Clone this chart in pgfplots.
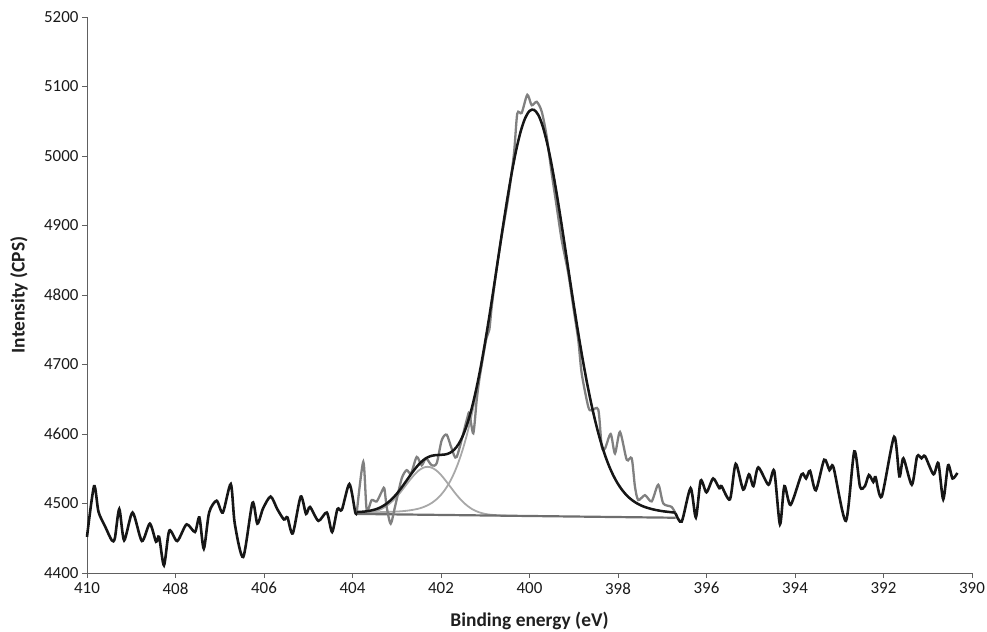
\documentclass[border=0pt]{standalone}
\usepackage{pgfplots}
\pgfplotsset{compat=1.18}
\usepackage{fontspec}
\setmainfont{Carlito}
\definecolor{blk}{HTML}{161616}
\definecolor{datgray}{HTML}{808080}
\definecolor{compgray}{HTML}{A8A8A8}
\definecolor{basegray}{HTML}{6E6E6E}
\definecolor{axgray}{HTML}{606060}
\begin{document}
\begin{tikzpicture}
\path[use as bounding box] (-87bp,-59bp) rectangle (900bp,573bp);
\begin{axis}[
  scale only axis,
  width=885bp, height=556bp,
  xmin=390, xmax=410, x dir=reverse,
  ymin=4400, ymax=5200,
  xtick={390,392,...,410},
  ytick={4400,4500,...,5200},
  axis x line*=bottom, axis y line*=left,
  axis line style={axgray, line width=0.8bp},
  tick style={axgray, line width=0.8bp},
  tick align=outside,
  major tick length=5bp,
  /pgf/number format/assume math mode=true,
  /pgf/number format/1000 sep={},
  ticklabel style={font=\fontsize{17}{20}\selectfont, text=black!90},
  xticklabel style={yshift=-1bp},
  xlabel={Binding energy (eV)},
  ylabel={Intensity (CPS)},
  label style={font=\bfseries\fontsize{19.5}{22}\selectfont, text=black!88},
  xlabel style={at={(axis description cs:0.5,0)}, anchor=center, yshift=-48bp},
  ylabel style={at={(axis description cs:-0.0768,0.5)}, anchor=center},
  clip=false,
]
% small component (light gray)
\addplot[compgray, line width=1.8bp, smooth] coordinates {
(403.9,4485.4)(403.8,4485.7)(403.7,4486.2)(403.6,4487.0)(403.5,4488.4)(403.4,4490.6)
(403.3,4493.7)(403.2,4497.9)(403.1,4503.3)(403.0,4509.9)(402.9,4517.5)(402.8,4525.8)
(402.7,4534.0)(402.6,4541.5)(402.5,4547.6)(402.4,4551.5)(402.3,4552.8)(402.2,4551.3)
(402.1,4547.3)(402.0,4541.1)(401.9,4533.4)(401.8,4525.0)(401.7,4516.6)(401.6,4508.8)
(401.5,4502.1)(401.4,4496.5)(401.3,4492.1)(401.2,4488.9)(401.1,4486.6)(401.0,4485.0)
(400.9,4484.0)(400.8,4483.4)(400.7,4483.0)(400.6,4482.7)(400.5,4482.4)};
% main component (light gray)
\addplot[compgray, line width=1.8bp, smooth] coordinates {
(403.9,4487.3)(403.8,4487.3)(403.7,4487.3)(403.6,4487.4)(403.5,4487.5)(403.4,4487.5)
(403.3,4487.7)(403.2,4487.9)(403.1,4488.1)(403.0,4488.4)(402.9,4488.8)(402.8,4489.4)
(402.7,4490.2)(402.6,4491.3)(402.5,4492.7)(402.4,4494.8)(402.3,4497.5)(402.2,4501.2)
(402.1,4506.1)(402.0,4512.5)(401.9,4520.7)(401.8,4531.2)(401.7,4544.2)(401.6,4560.2)
(401.5,4579.5)(401.4,4602.4)(401.3,4629.1)(401.2,4659.6)(401.1,4693.6)(401.0,4731.0)
(400.9,4771.1)(400.8,4813.0)(400.7,4855.8)(400.6,4898.2)(400.5,4938.8)(400.4,4976.1)
(400.3,5008.7)(400.2,5035.1)(400.1,5054.2)(400.0,5064.8)(399.9,5066.5)(399.8,5059.0)
(399.7,5042.6)(399.6,5018.3)(399.5,4987.4)(399.4,4951.4)(399.3,4911.8)(399.2,4870.1)
(399.1,4827.7)(399.0,4786.0)(398.9,4745.9)(398.8,4708.2)(398.7,4673.6)(398.6,4642.5)
(398.5,4615.0)(398.4,4591.1)(398.3,4570.7)(398.2,4553.7)(398.1,4539.6)(398.0,4528.1)
(397.9,4518.9)(397.8,4511.5)(397.7,4505.8)(397.6,4501.3)(397.5,4497.8)(397.4,4495.1)
(397.3,4493.1)(397.2,4491.4)(397.1,4490.1)(397.0,4489.0)(396.9,4488.2)(396.8,4487.5)
(396.7,4486.8)};
% baseline
\addplot[basegray, line width=2.2bp] coordinates {(403.9,4485.0)(396.7,4479.5)};
% measured data in fit region (gray)
\addplot[datgray, line width=2.3bp, smooth, tension=0.45] coordinates {
(403.905,4486)(403.756,4560)(403.679,4491)(403.566,4505)(403.453,4503)(403.340,4517)
(403.281,4522)(403.227,4495)(403.137,4471)(403.040,4495)(402.888,4536)(402.775,4548)
(402.678,4543)(402.549,4567)(402.436,4555)(402.339,4565)(402.210,4555)(402.097,4558)
(401.984,4591)(401.871,4599)(401.758,4579)(401.645,4567)(401.419,4620)(401.360,4630)
(401.270,4601)(401.193,4649)(401.130,4680)(400.983,4735)(400.908,4750)(400.854,4783)
(400.757,4831)(400.644,4879)(400.479,4941)(400.350,5004)(400.276,5061)(400.176,5062)
(400.050,5088)(399.950,5073)(399.837,5078)(399.724,5064)(399.611,5028)(399.498,4975)
(399.385,4927)(399.272,4879)(399.123,4831)(399.010,4783)(398.897,4735)(398.820,4687)
(398.671,4639)(398.594,4634)(398.445,4635)(398.368,4582)(398.294,4579)(398.165,4600)
(398.068,4572)(397.955,4603)(397.803,4563)(397.690,4565)(397.616,4524)(397.542,4505)
(397.390,4512)(397.239,4503)(397.090,4527)(396.976,4500)(396.786,4495)(396.673,4482)};
% fitted envelope (black)
\addplot[blk, line width=2.5bp, smooth] coordinates {
(403.9,4487.7)(403.8,4488.0)(403.7,4488.6)(403.6,4489.7)(403.5,4491.2)(403.4,4493.5)
(403.3,4496.8)(403.2,4501.3)(403.1,4507.0)(403.0,4514.0)(402.9,4522.1)(402.8,4531.0)
(402.7,4540.1)(402.6,4548.8)(402.5,4556.3)(402.4,4562.4)(402.3,4566.5)(402.2,4568.8)
(402.1,4569.7)(402.0,4570.0)(401.9,4570.6)(401.8,4572.8)(401.7,4577.5)(401.6,4585.8)
(401.5,4598.4)(401.4,4615.8)(401.3,4638.2)(401.2,4665.6)(401.1,4697.3)(401.0,4733.3)
(400.9,4772.4)(400.8,4813.7)(400.7,4856.2)(400.6,4898.4)(400.5,4938.8)(400.4,4976.1)
(400.3,5008.7)(400.2,5035.1)(400.1,5054.2)(400.0,5064.8)(399.9,5066.5)(399.8,5059.0)
(399.7,5042.6)(399.6,5018.3)(399.5,4987.4)(399.4,4951.4)(399.3,4911.8)(399.2,4870.1)
(399.1,4827.7)(399.0,4786.0)(398.9,4745.9)(398.8,4708.2)(398.7,4673.6)(398.6,4642.5)
(398.5,4615.0)(398.4,4591.1)(398.3,4570.7)(398.2,4553.7)(398.1,4539.6)(398.0,4528.1)
(397.9,4518.9)(397.8,4511.5)(397.7,4505.8)(397.6,4501.3)(397.5,4497.8)(397.4,4495.1)
(397.3,4493.1)(397.2,4491.4)(397.1,4490.1)(397.0,4489.0)(396.9,4488.2)(396.8,4487.5)
(396.7,4486.8)};
% measured data outside fit region (black), left
\addplot[blk, line width=2.6bp, smooth, tension=0.45] coordinates {
(410.00,4452)(409.84,4525)(409.74,4488)(409.59,4467)(409.44,4447)(409.37,4450)
(409.27,4492)(409.16,4447)(408.97,4487)(408.76,4446)(408.58,4471)(408.44,4445)
(408.37,4452)(408.26,4411)(408.14,4461)(407.96,4446)(407.75,4470)(407.56,4459)
(407.46,4480)(407.36,4435)(407.24,4487)(407.07,4504)(406.93,4487)(406.75,4528)
(406.66,4471)(406.47,4423)(406.26,4501)(406.15,4471)(406.02,4493)(405.85,4510)
(405.70,4492)(405.55,4477)(405.47,4480)(405.35,4457)(405.17,4510)(405.05,4485)
(404.96,4495)(404.77,4475)(404.58,4487)(404.46,4459)(404.34,4492)(404.24,4491)
(404.07,4528)(403.94,4488)(403.91,4486)};
% measured data outside fit region (black), right
\addplot[blk, line width=2.6bp, smooth, tension=0.45] coordinates {
(396.70,4486)(396.56,4474)(396.36,4522)(396.24,4480)(396.13,4533)(396.00,4516)
(395.85,4536)(395.71,4522)(395.66,4525)(395.47,4506)(395.34,4557)(395.17,4520)
(395.04,4542)(394.94,4525)(394.83,4552)(394.60,4527)(394.47,4547)(394.34,4470)
(394.24,4525)(394.10,4498)(393.85,4542)(393.75,4536)(393.66,4547)(393.53,4519)
(393.34,4563)(393.22,4548)(393.13,4552)(392.85,4475)(392.66,4575)(392.53,4524)
(392.42,4525)(392.33,4541)(392.23,4531)(392.18,4538)(392.04,4510)(391.76,4596)
(391.64,4539)(391.55,4565)(391.36,4527)(391.24,4568)(391.14,4565)(391.06,4568)
(390.87,4542)(390.76,4558)(390.65,4506)(390.54,4555)(390.44,4536)(390.33,4544)};
\end{axis}
\end{tikzpicture}
\end{document}
